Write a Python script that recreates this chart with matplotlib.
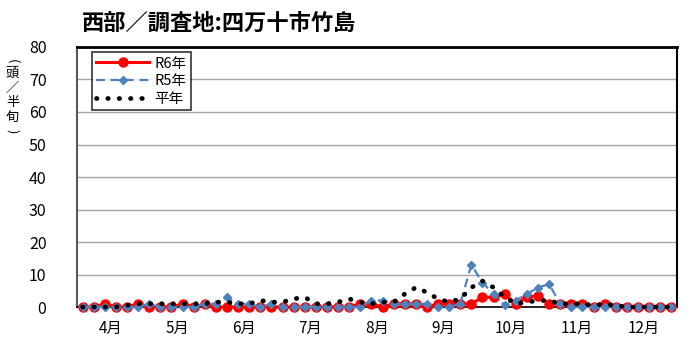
import matplotlib
matplotlib.use("Agg")
import matplotlib.pyplot as plt
import numpy as np

plt.rcParams['font.family'] = ['Noto Sans CJK JP', 'DejaVu Sans']

# 半旬 (5-day periods) from April to December: 54 points
months = ['4月', '5月', '6月', '7月', '8月', '9月', '10月', '11月', '12月']

r6 = [0, 0, 1, 0, 0, 1, 0, 0, 0, 1, 0, 1,
      0, 0, 0, 0, 0, 0, 0, 0, 0, 0, 0, 0,
      0, 1, 1, 0, 1, 1, 1, 0, 1, 1, 1, 1,
      3, 3, 4, 1, 3, 3.5, 1, 1, 1, 1, 0, 1,
      0, 0, 0, 0, 0, 0]
r5 = [0, 0, 0, 0, 0, 0, 1, 0, 0, 0, 0, 1,
      1, 3, 1, 1, 0, 1, 0, 0, 0, 0, 0, 0,
      0, 0, 2, 2, 1, 1, 1, 1, 0, 0, 1, 13,
      7.5, 4, 0.5, 2, 4, 6, 7, 1, 0, 0, 0, 0,
      0, 0, 0, 0, 0, 0]
heinen = [0, 0, 0, 0, 0.5, 1, 1, 1, 1, 1, 1, 1,
          1.5, 1.5, 1, 1, 2, 1.5, 1.5, 2.5, 3, 1, 1, 1.5,
          2.5, 1.5, 1, 1.5, 1.5, 4, 6, 4.5, 2.5, 1.5, 2.5, 6,
          8, 6, 3, 1, 1.5, 2, 2, 1, 1, 1, 0.5, 1,
          0.5, 0, 0, 0, 0, 0]

x = np.arange(len(r6))

fig = plt.figure(figsize=(7, 3.56), dpi=100)
ax = fig.add_axes([0.11, 0.1376, 0.857, 0.7304])

ax.plot(x, r6, color='#ff0000', lw=2.2, marker='o', ms=6.5,
        mfc='#ff0000', mec='#ff0000', label='R6年', clip_on=False, zorder=3)
ax.plot(x, r5, color='#4f81bd', lw=1.6, ls=(0, (4, 2.5)), marker='D', ms=4.5,
        mfc='#4f81bd', mec='#4f81bd', label='R5年', clip_on=False, zorder=4)
ax.plot(x, heinen, color='black', lw=3.4, ls=(0, (0.1, 2.3)),
        dash_capstyle='round', label='平年', clip_on=False, zorder=5)

ax.set_xlim(-0.5, 53.5)
ax.set_ylim(0, 80)
ax.set_yticks(range(0, 81, 10))
ax.set_xticks([6 * i + 2.5 for i in range(len(months))])
ax.set_xticklabels(months, fontsize=11)
ax.tick_params(axis='x', length=0, pad=9)
ax.tick_params(axis='y', length=0, labelsize=11.5, pad=22)
ax.grid(axis='y', color='#a6a6a6', lw=1)
ax.set_axisbelow(True)

for s in ['top', 'right', 'bottom']:
    ax.spines[s].set_color('black')
ax.spines['top'].set_linewidth(2)
ax.spines['right'].set_linewidth(1.5)
ax.spines['bottom'].set_linewidth(1.2)
ax.spines['left'].set_color('#595959')
ax.spines['left'].set_linewidth(1.5)

leg = ax.legend(loc='upper left', bbox_to_anchor=(0.025, 0.98), fontsize=10.5,
                frameon=True, fancybox=False, edgecolor='black',
                handlelength=3.6, borderpad=0.3, labelspacing=0.25,
                handletextpad=0.4, borderaxespad=0)
leg.get_frame().set_linewidth(1.2)

fig.text(0.313, 0.935, '西部／調査地:四万十市竹島', fontsize=16, fontweight='bold',
         ha='center', va='center')

# vertical unit label
ylab_x = 0.018
fig.text(ylab_x, 0.828, '(', fontsize=9.5, rotation=-90, ha='center', va='center')
for k, ch in enumerate('頭／半旬'):
    fig.text(ylab_x, 0.795 - k * 0.042, ch, fontsize=9.5, ha='center', va='center')
fig.text(ylab_x, 0.632, ')', fontsize=9.5, rotation=-90, ha='center', va='center')

fig.savefig('out.png', dpi=100)
